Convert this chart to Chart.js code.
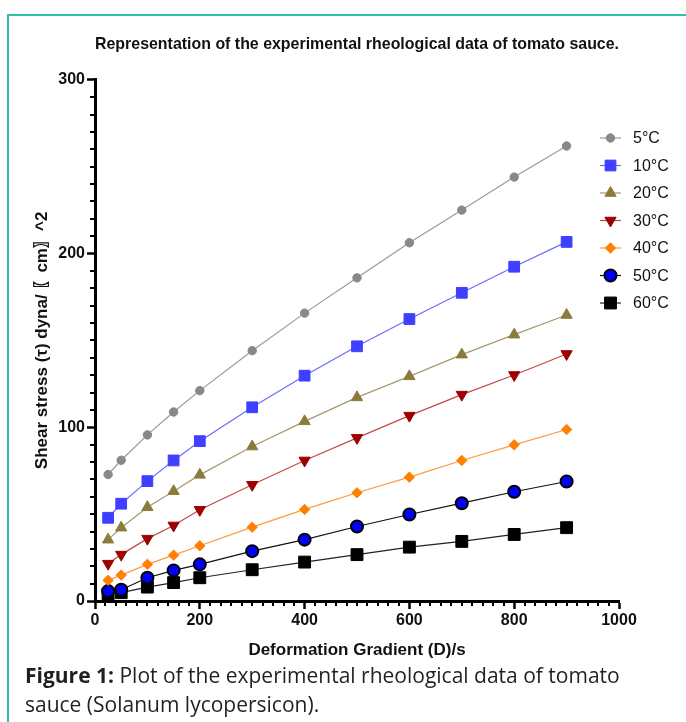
<!DOCTYPE html>
<html>
<head>
<meta charset="utf-8">
<script src="https://cdn.jsdelivr.net/npm/chart.js"></script>
<style>
  html, body { margin: 0; padding: 0; background: #fff; overflow: hidden; }
  body { width: 686px; height: 722px; position: relative; }
  #frame {
    position: absolute; left: 7px; top: 14px; width: 720px; height: 760px;
    border: 2px solid #2fbfab;
  }
  #grafico { position: absolute; left: 0; top: 0; }
  #legenda-figura {
    position: absolute; left: 25px; top: 661px; width: 640px;
    font-family: "Open Sans", sans-serif; font-size: 21px; line-height: 29px; color: #231f20;
  }
</style>
</head>
<body>
<div id="frame"></div>
<canvas id="grafico" width="686" height="665"></canvas>
<div id="legenda-figura"><b>Figure 1:</b> Plot of the experimental rheological data of tomato sauce (Solanum lycopersicon).</div>
<script>
// Dados
const shearRate = [25, 50, 100, 150, 200, 300, 400, 500, 600, 700, 800, 900];
const temperatures = ['5°C', '10°C', '20°C', '30°C', '40°C', '50°C', '60°C'];
const stress5C  = [72.8, 81.0, 95.6, 108.8, 121.1, 144.1, 165.7, 186.0, 206.2, 225.0, 244.0, 261.9];
const stress10C = [47.9, 56.0, 69.0, 80.9, 92.0, 111.5, 129.7, 146.6, 162.3, 177.4, 192.4, 206.7];
const stress20C = [35.3, 42.2, 54.0, 63.2, 72.6, 88.9, 103.4, 117.2, 129.3, 141.8, 153.3, 164.6];
const stress30C = [21.5, 26.7, 35.9, 43.5, 52.5, 66.9, 80.9, 93.9, 106.7, 118.8, 130.1, 142.2];
const stress40C = [11.9, 14.9, 21.1, 26.4, 31.8, 42.5, 52.7, 62.3, 71.3, 80.9, 89.9, 98.7];
const stress50C = [5.7, 6.5, 13.4, 17.6, 21.1, 28.7, 35.3, 42.9, 49.8, 56.3, 62.9, 68.8];
const stress60C = [3.9, 4.8, 8.0, 10.6, 13.4, 18.0, 22.4, 26.7, 31.0, 34.3, 38.3, 42.2];
const xTicks = [0, 200, 400, 600, 800, 1000];
const yTicks = [0, 100, 200, 300];

const FONT = "Arial, 'Liberation Sans', Helvetica, sans-serif";

function serie(label, values, style) {
    return Object.assign({
        label: label,
        data: shearRate.map((x, i) => ({ x: x, y: values[i] })),
        borderWidth: 1.2,
        showLine: true,
        tension: 0
    }, style);
}

// marcas secundárias dos eixos
const minorTicks = {
    id: 'minorTicks',
    afterDraw(chart) {
        const { ctx, scales: { x, y } } = chart;
        ctx.save();
        ctx.strokeStyle = '#000';
        ctx.lineWidth = 2;
        for (let v = 20; v < 1000; v += 20) {
            if (v % 200 === 0) continue;
            const px = Math.round(x.getPixelForValue(v));
            ctx.beginPath();
            ctx.moveTo(px, x.top);
            ctx.lineTo(px, x.top + 5);
            ctx.stroke();
        }
        for (let v = 10; v < 300; v += 10) {
            if (v % 100 === 0) continue;
            const py = Math.round(y.getPixelForValue(v));
            ctx.beginPath();
            ctx.moveTo(y.right, py);
            ctx.lineTo(y.right - 5, py);
            ctx.stroke();
        }
        ctx.restore();
    }
};

// legenda desenhada à direita
const sideLegend = {
    id: 'sideLegend',
    afterDraw(chart) {
        const ctx = chart.ctx;
        ctx.save();
        chart.data.datasets.forEach((ds, i) => {
            const yy = 138 + i * 27.5;
            ctx.strokeStyle = ds.borderColor;
            ctx.lineWidth = 1.2;
            ctx.beginPath();
            ctx.moveTo(600, yy);
            ctx.lineTo(621, yy);
            ctx.stroke();
            ctx.fillStyle = ds.pointBackgroundColor;
            ctx.strokeStyle = ds.pointBorderColor;
            ctx.lineWidth = ds.pointBorderWidth;
            Chart.helpers.drawPoint(ctx, {
                pointStyle: ds.pointStyle,
                radius: ds.pointRadius,
                rotation: ds.pointRotation || 0,
                borderWidth: ds.pointBorderWidth
            }, 610.5, yy);
            ctx.fillStyle = '#111';
            ctx.font = '16px ' + FONT;
            ctx.textBaseline = 'middle';
            ctx.textAlign = 'left';
            ctx.fillText(ds.label, 633, yy + 1);
        });
        ctx.restore();
    }
};

const config = {
    type: 'scatter',
    data: {
        datasets: [
            serie(temperatures[0], stress5C, {
                borderColor: '#9a9a9a', pointStyle: 'circle', pointRadius: 4.2,
                pointBackgroundColor: '#888888', pointBorderColor: '#888888', pointBorderWidth: 1
            }),
            serie(temperatures[1], stress10C, {
                borderColor: '#6b6bff', pointStyle: 'rect', pointRadius: 7.6,
                pointBackgroundColor: '#3f3fff', pointBorderColor: '#3f3fff', pointBorderWidth: 1
            }),
            serie(temperatures[2], stress20C, {
                borderColor: '#a8996a', pointStyle: 'triangle', pointRadius: 6.5,
                pointBackgroundColor: '#8b7b3b', pointBorderColor: '#8b7b3b', pointBorderWidth: 1
            }),
            serie(temperatures[3], stress30C, {
                borderColor: '#c24a4a', pointStyle: 'triangle', pointRotation: 180, pointRadius: 6.5,
                pointBackgroundColor: '#9c0000', pointBorderColor: '#9c0000', pointBorderWidth: 1
            }),
            serie(temperatures[4], stress40C, {
                borderColor: '#ff9a3c', pointStyle: 'rectRot', pointRadius: 5.2,
                pointBackgroundColor: '#ff8000', pointBorderColor: '#ff8000', pointBorderWidth: 1
            }),
            serie(temperatures[5], stress50C, {
                borderColor: '#111111', pointStyle: 'circle', pointRadius: 6,
                pointBackgroundColor: '#0000ff', pointBorderColor: '#000000', pointBorderWidth: 2
            }),
            serie(temperatures[6], stress60C, {
                borderColor: '#222222', pointStyle: 'rect', pointRadius: 8.4,
                pointBackgroundColor: '#000000', pointBorderColor: '#000000', pointBorderWidth: 1
            })
        ]
    },
    options: {
        responsive: false,
        animation: false,
        layout: { padding: { left: 0, right: 67, top: 0, bottom: 0 } },
        plugins: {
            legend: { display: false },
            tooltip: { enabled: false },
            title: {
                display: true,
                fullSize: false,
                text: 'Representation of the experimental rheological data of tomato sauce.',
                color: '#111',
                font: { family: FONT, size: 17, weight: 'bold' },
                padding: { top: 34, bottom: 25.4 }
            }
        },
        scales: {
            x: {
                type: 'linear',
                min: xTicks[0],
                max: xTicks[xTicks.length - 1],
                afterBuildTicks: (axis) => { axis.ticks = xTicks.map(v => ({ value: v })); },
                afterFit: (axis) => { axis.height = 64; },
                border: { color: '#000', width: 3 },
                grid: { drawOnChartArea: false, drawTicks: true, tickLength: 8, tickColor: '#000', tickWidth: 2.5 },
                ticks: {
                    color: '#111', padding: 2, maxRotation: 0,
                    font: { family: FONT, size: 16, weight: 'bold' },
                    callback: (v) => String(v)
                },
                title: {
                    display: true,
                    text: 'Deformation Gradient (D)/s',
                    color: '#111',
                    font: { family: FONT, size: 17, weight: 'bold' },
                    padding: { top: 4, bottom: 4.8 }
                }
            },
            y: {
                type: 'linear',
                min: yTicks[0],
                max: yTicks[yTicks.length - 1],
                afterBuildTicks: (axis) => { axis.ticks = yTicks.map(v => ({ value: v })); },
                afterFit: (axis) => { axis.width = 95; },
                border: { color: '#000', width: 3 },
                grid: { drawOnChartArea: false, drawTicks: true, tickLength: 8, tickColor: '#000', tickWidth: 2.5 },
                ticks: {
                    color: '#111', padding: 2,
                    font: { family: FONT, size: 16, weight: 'bold' },
                    callback: (v) => String(v)
                },
                title: {
                    display: true,
                    text: 'Shear stress (τ) dyna/ 〖cm〗^2',
                    color: '#111',
                    font: { family: FONT, size: 17, weight: 'bold' },
                    padding: { top: 31.8, bottom: 4 }
                }
            }
        }
    },
    plugins: [minorTicks, sideLegend]
};

var ctx = document.getElementById('grafico').getContext('2d');
var grafico = new Chart(ctx, config);
</script>
</body>
</html>
